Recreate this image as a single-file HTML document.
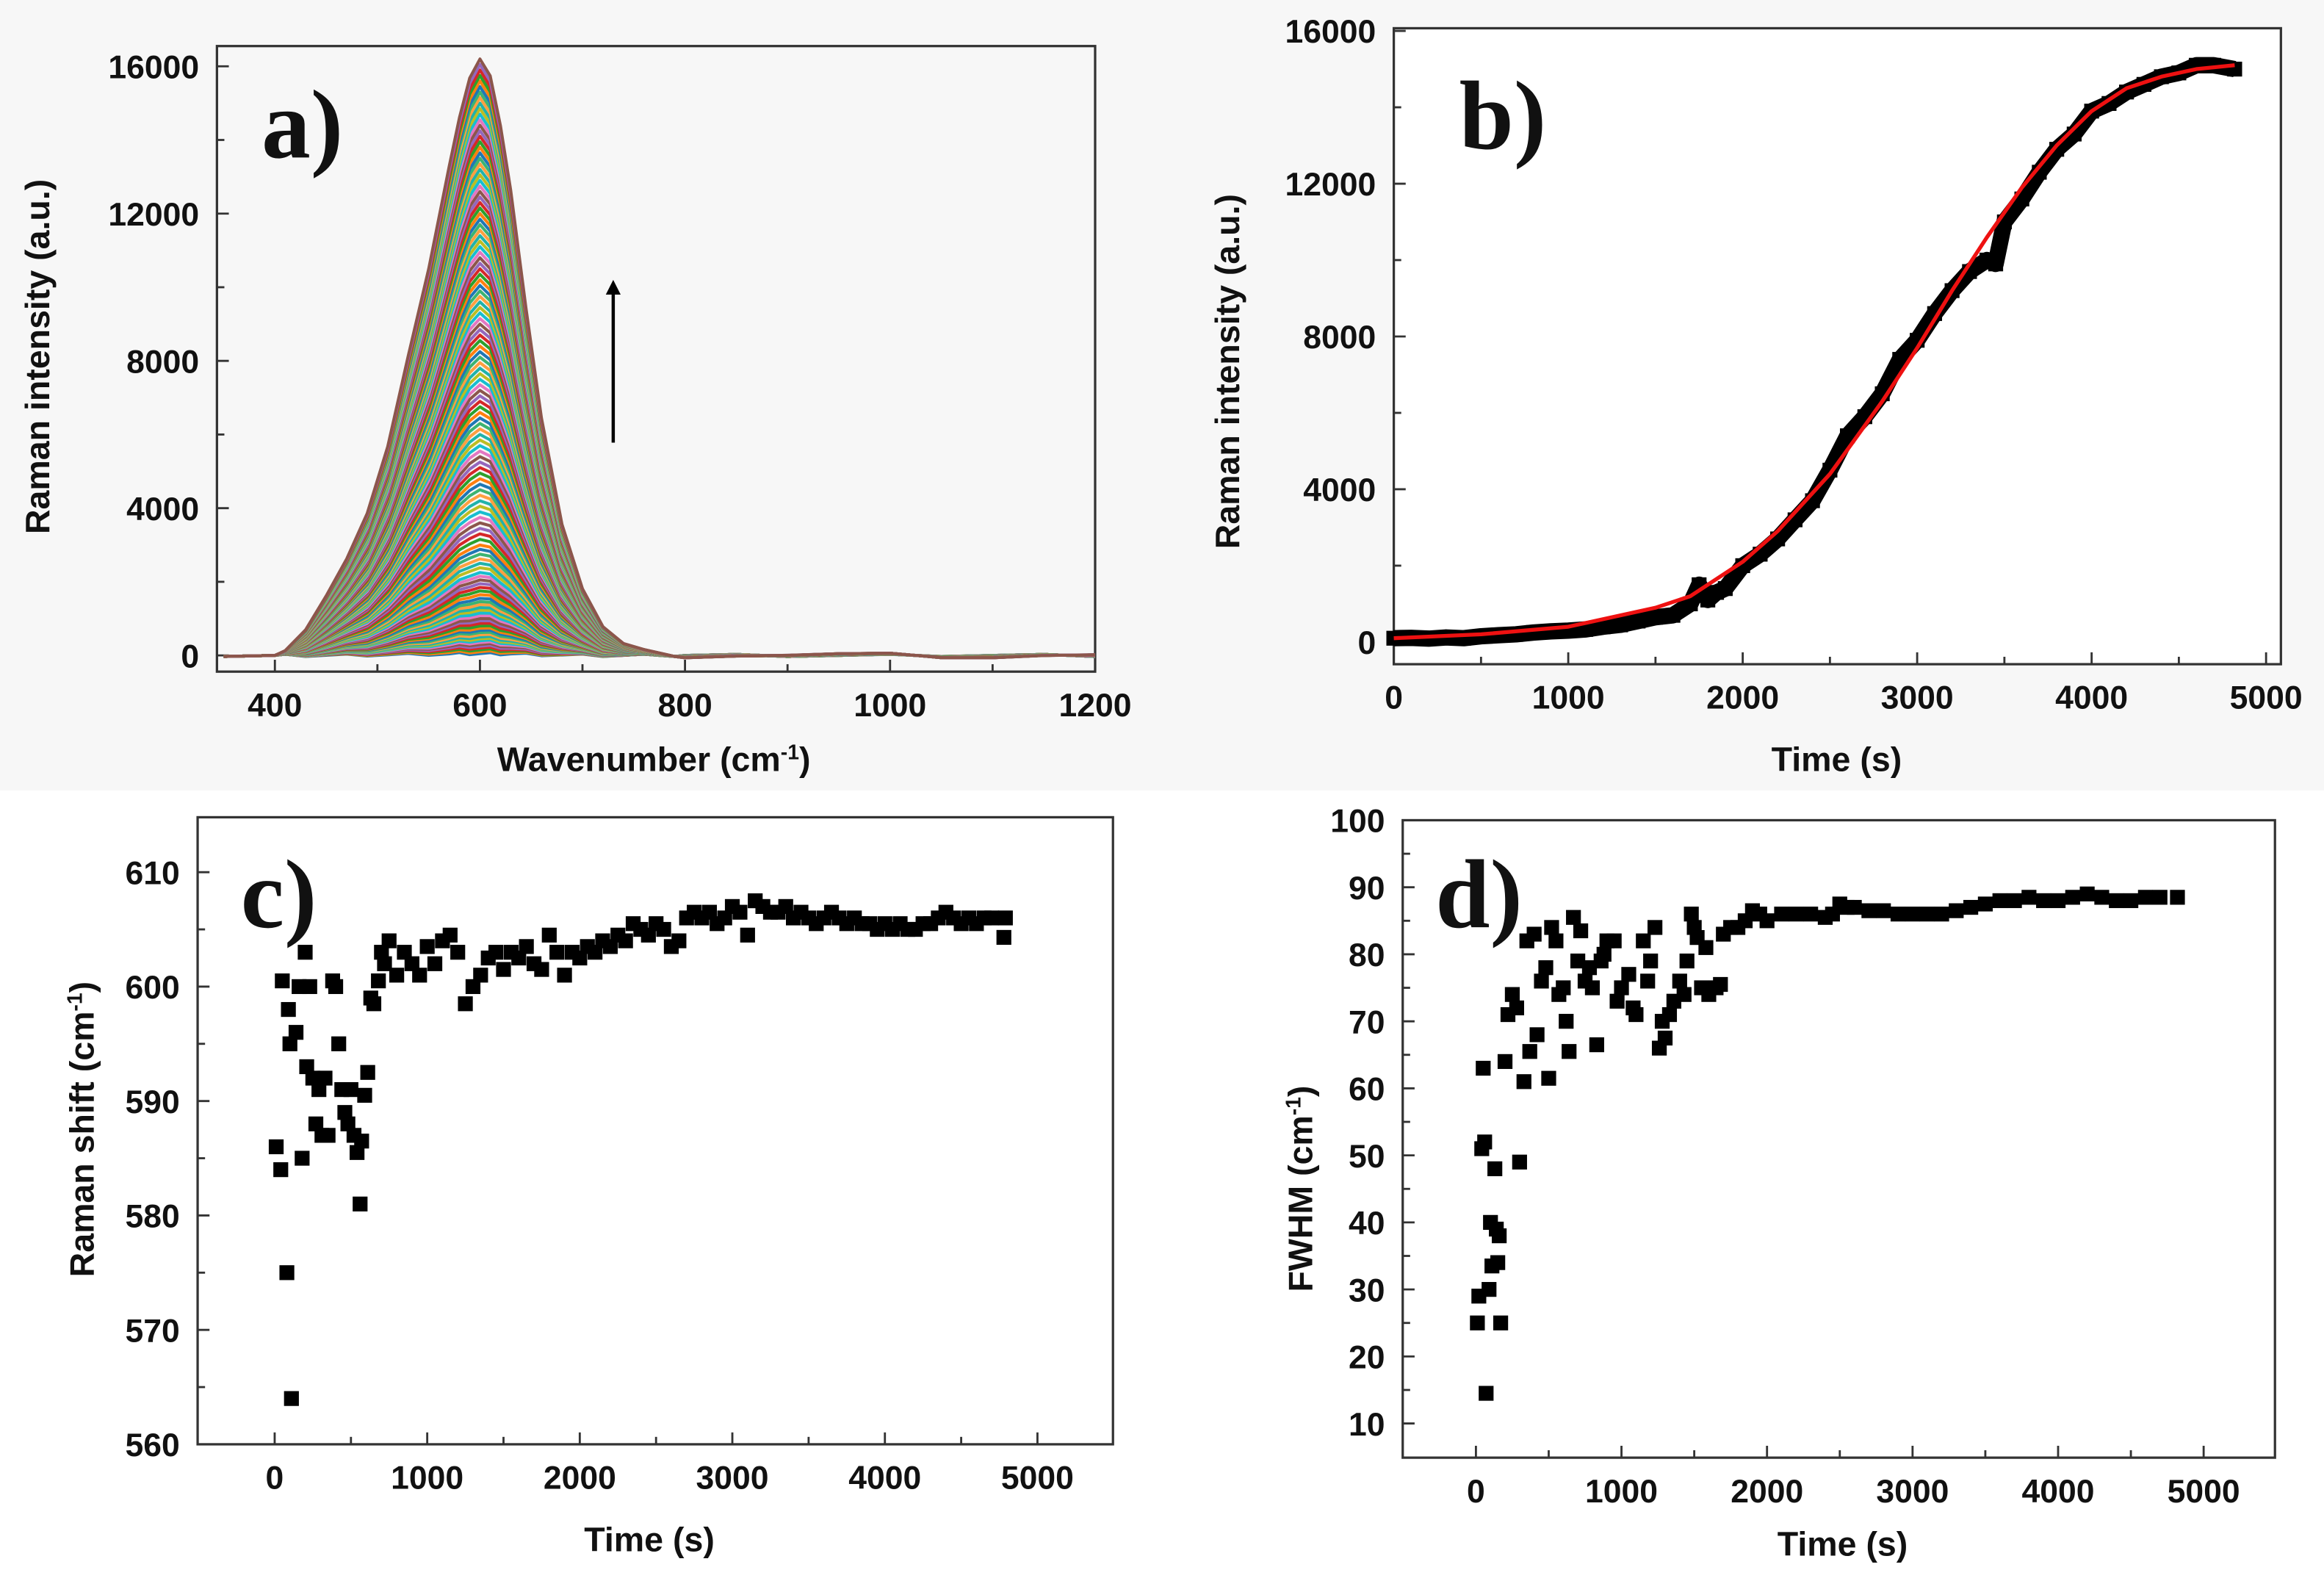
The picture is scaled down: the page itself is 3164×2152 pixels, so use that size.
<!DOCTYPE html>
<html><head><meta charset="utf-8"><title>Raman kinetics</title>
<style>
html,body{margin:0;padding:0;background:#fff;}
svg{display:block;}
text{font-family:"Liberation Sans",Arial,sans-serif;font-weight:bold;fill:#111;}
.lbl{font-family:"Liberation Serif","Times New Roman",serif;font-weight:bold;}
</style></head>
<body>
<svg id="fig" xmlns="http://www.w3.org/2000/svg" width="3164" height="2152" viewBox="0 0 1564 1064" preserveAspectRatio="none">
<rect x="0" y="0" width="1564" height="1064" fill="#fff"/>
<rect x="0" y="0" width="1564" height="532" fill="#f7f7f7"/>
<g id="pa"></g>
<g id="pb"></g>
<g id="pc"></g>
<g id="pd"></g>
</svg>
<script>
// ---------- Panel a: spectral profile (normalized) and peak heights ----------
const profWavenumber = [350,400,410,430,450,470,490,510,530,550,570,580,590,600,610,620,630,645,660,680,700,720,740,760,790,800,850,900,950,1000,1050,1100,1150,1200];
const profShape      = [0,0,0.006,0.045,0.1,0.16,0.24,0.35,0.5,0.65,0.82,0.9,0.97,1,0.97,0.89,0.78,0.58,0.4,0.22,0.11,0.05,0.02,0.008,0,-0.004,-0.003,0.002,0.003,0.002,-0.002,-0.004,-0.002,0.003];
const aPeakHeights = [50,100,150,200,250,300,350,400,450,500,560,620,680,740,800,870,940,1000,1080,1150,1230,1300,1380,1460,1550,1650,1750,1850,1950,2050,2150,2250,2380,2500,2620,2750,2880,3000,3150,3300,3450,3600,3750,3900,4050,4200,4350,4500,4650,4800,4950,5100,5250,5400,5550,5700,5850,6000,6150,6300,6450,6600,6750,6900,7050,7200,7350,7500,7650,7800,7950,8100,8250,8400,8550,8700,8850,9000,9150,9300,9450,9600,9750,9900,10050,10200,10350,10500,10650,10800,10950,11100,11250,11400,11550,11700,11850,12000,12150,12300,12450,12600,12750,12900,13050,13200,13350,13500,13650,13800,13950,14100,14250,14400,14550,14700,14850,15000,15150,15300,15450,15600,15750,15900,16050,16200];
// ---------- Panel b: intensity vs time ----------
const bTimes  = [0,100,200,300,400,500,600,700,800,900,1000,1100,1200,1300,1400,1500,1600,1700,1750,1800,1850,1900,2000,2100,2200,2300,2400,2500,2600,2700,2800,2900,3000,3100,3200,3300,3400,3450,3500,3600,3700,3800,3900,4000,4100,4200,4300,4400,4500,4600,4700,4820];
const bValues = [100,110,90,120,100,150,180,200,250,280,300,330,400,450,550,650,700,1000,1500,1100,1300,1400,2000,2300,2700,3200,3700,4500,5400,5900,6500,7400,7900,8600,9200,9700,10000,9900,11000,11600,12300,12900,13300,13900,14100,14400,14600,14800,14900,15100,15100,15000];
const bFitTimes  = [0,500,1000,1500,1700,2000,2200,2500,2800,3000,3200,3400,3600,3800,4000,4200,4400,4600,4820];
const bFitValues = [100,200,400,900,1200,2100,2900,4400,6300,7700,9200,10600,11900,13000,13900,14500,14800,15000,15100];
// ---------- Panel c: Raman shift vs time [t, value] ----------
const cPoints = [[10,586],[40,584],[50,600.5],[80,575],[90,598],[100,595],[110,564],[140,596],[160,600],[180,585],[200,603],[210,593],[230,600],[250,592],[270,588],[290,591],[310,587],[330,592],[350,587],[380,600.5],[400,600],[420,595],[440,591],[460,589],[480,588],[500,591],[520,587],[540,585.5],[560,581],[570,586.5],[590,590.5],[610,592.5],[630,599],[650,598.5],[680,600.5],[700,603],[720,602],[750,604],[800,601],[850,603],[900,602],[950,601],[1000,603.5],[1050,602],[1100,604],[1150,604.5],[1200,603],[1250,598.5],[1300,600],[1350,601],[1400,602.5],[1450,603],[1500,601.5],[1550,603],[1600,602.5],[1650,603.5],[1700,602],[1750,601.5],[1800,604.5],[1850,603],[1900,601],[1950,603],[2000,602.5],[2050,603.5],[2100,603],[2150,604],[2200,603.5],[2250,604.5],[2300,604],[2350,605.5],[2400,605],[2450,604.5],[2500,605.5],[2550,605],[2600,603.5],[2650,604],[2700,606],[2750,606.5],[2800,606],[2850,606.5],[2900,605.5],[2950,606],[3000,607],[3050,606.5],[3100,604.5],[3150,607.5],[3200,607],[3250,606.5],[3300,606.5],[3350,607],[3400,606],[3450,606.5],[3500,606],[3550,605.5],[3600,606],[3650,606.5],[3700,606],[3750,605.5],[3800,606],[3850,605.5],[3900,605.5],[3950,605],[4000,605.5],[4050,605],[4100,605.5],[4150,605],[4200,605],[4250,605.5],[4300,605.5],[4350,606],[4400,606.5],[4450,606],[4500,605.5],[4550,606],[4600,605.5],[4650,606],[4700,606],[4780,604.3],[4790,606]];
// ---------- Panel d: FWHM vs time ----------
const dTimes  = [10,20,40,50,60,70,90,100,110,130,140,150,160,170,200,220,250,280,300,330,350,370,400,420,450,480,500,520,550,570,600,620,640,670,700,720,750,780,800,830,860,880,900,950,970,1000,1050,1080,1100,1150,1180,1200,1230,1260,1280,1300,1330,1360,1400,1430,1450,1480,1500,1520,1550,1580,1600,1650,1680,1700,1750,1800,1850,1900,1950,2000,2100,2200,2300,2400,2450,2500,2550,2600,2700,2800,2900,3000,3100,3200,3300,3400,3500,3600,3700,3800,3900,4000,4100,4200,4300,4400,4500,4600,4700,4820];
const dValues = [25,29,51,63,52,14.5,30,40,33.5,48,39,34,38,25,64,71,74,72,49,61,82,65.5,83,68,76,78,61.5,84,82,74,75,70,65.5,85.5,79,83.5,76,78,75,66.5,79,80,82,82,73,75,77,72,71,82,76,79,84,66,70,67.5,71,73,76,74,79,86,84,82.5,75,81,74,75,75.5,83,84,84,85,86.5,86,85,86,86,86,85.5,86,87.5,87,87,86.5,86.5,86,86,86,86,86.5,87,87.5,88,88,88.5,88,88,88.5,89,88.5,88,88,88.5,88.5,88.5];

const NS='http://www.w3.org/2000/svg';
function mk(tag, attrs, parent){const e=document.createElementNS(NS,tag);for(const k in attrs)e.setAttribute(k,attrs[k]);parent.appendChild(e);return e;}
function scale(d0,d1,p0,p1){return v=>p0+(v-d0)/(d1-d0)*(p1-p0);}

function axes(g, cfg){
  const X=cfg.X, Y=cfg.Y;
  const box=mk('rect',{x:cfg.l,y:cfg.t,width:cfg.r-cfg.l,height:cfg.b-cfg.t,fill:cfg.fill||'none',stroke:'#333','stroke-width':1.6},g);
  
  
  cfg.xMinor.forEach(v=>{const x=X(v);const t=mk('line',{x1:x,x2:x,y1:cfg.b,y2:cfg.b-5,stroke:'#333','stroke-width':1.4},g);
    });
  cfg.xTicks.forEach(v=>{const x=X(v);const t=mk('line',{x1:x,x2:x,y1:cfg.b,y2:cfg.b-8,stroke:'#333','stroke-width':1.4},g);
    
    const s=mk('text',{x:x,y:cfg.b+30,'text-anchor':'middle','font-size':22},g);s.textContent=v;
    });
  cfg.yMinor.forEach(v=>{const y=Y(v);const t=mk('line',{x1:cfg.l,x2:cfg.l+5,y1:y,y2:y,stroke:'#333','stroke-width':1.4},g);
    });
  cfg.yTicks.forEach(v=>{const y=Y(v);const t=mk('line',{x1:cfg.l,x2:cfg.l+8,y1:y,y2:y,stroke:'#333','stroke-width':1.4},g);
    
    const s=mk('text',{x:cfg.l-12,y:y+8,'text-anchor':'end','font-size':22},g);s.textContent=v;
    });
  const xt=mk('text',{x:cfg.xtX,y:cfg.xtY,'text-anchor':'middle','font-size':23},g);
  xt.innerHTML=cfg.xTitle;
  
  const yt=mk('text',{x:0,y:0,'text-anchor':'middle','font-size':23,transform:`translate(${cfg.ytX},${cfg.ytY}) rotate(-90)`},g);
  yt.innerHTML=cfg.yTitle;
  
  const pl=mk('text',{x:cfg.lx,y:cfg.ly,'font-size':66,class:'lbl'},g);pl.textContent=cfg.label;
  
}
function range(a,b,s){const r=[];for(let v=a;v<=b+1e-9;v+=s)r.push(v);return r;}
const sup='<tspan baseline-shift="super" font-size="14">-1</tspan>';

// ---- Panel a ----
(function(){
  const g=document.getElementById('pa');
  const X=scale(343.5,1200,146,737), Y=scale(-440,16550,452,31);
  axes(g,{X,Y,l:146,r:737,t:31,b:452,fill:'#f7f7f7',xTicks:range(400,1200,200),xMinor:range(500,1100,200),
    yTicks:range(0,16000,4000),yMinor:range(2000,14000,4000),xTitle:'Wavenumber (cm'+sup+')',xtX:440,xtY:519,
    yTitle:'Raman intensity (a.u.)',ytX:33,ytY:240,label:'a)',lx:176,ly:106});
  const pal=['#1f77b4','#ff7f0e','#2ca02c','#d62728','#9467bd','#8c564b','#e377c2','#17becf','#bcbd22','#20b2aa','#ff9f40','#3cb371'];
  aPeakHeights.forEach((h,i)=>{
    const pts=profWavenumber.map((w,j)=>X(w).toFixed(1)+','+Y(h*profShape[j]+ (j%3-1)*30).toFixed(1)).join(' ');
    const p=mk('polyline',{points:pts,fill:'none',stroke:pal[i%pal.length],'stroke-width':2,'stroke-linejoin':'round'},g);
    
    
  });
  const ar=mk('line',{x1:X(730),x2:X(730),y1:Y(5780),y2:Y(9900),stroke:'#000','stroke-width':2.2},g);
  
  const ah=mk('polygon',{points:`${X(730)-5},${Y(9800)} ${X(730)+5},${Y(9800)} ${X(730)},${Y(10200)}`,fill:'#000'},g);
  
})();

// ---- Panel b ----
(function(){
  const g=document.getElementById('pb');
  const X=scale(0,5085,938,1535), Y=scale(-580,16070,447,19);
  axes(g,{X,Y,l:938,r:1535,t:19,b:447,fill:'#fff',xTicks:range(0,5000,1000),xMinor:range(500,4500,1000),
    yTicks:range(0,16000,4000),yMinor:range(2000,14000,4000),xTitle:'Time (s)',xtX:1236,xtY:519,
    yTitle:'Raman intensity (a.u.)',ytX:834,ytY:250,label:'b)',lx:982,ly:100});
  const pts=bTimes.map((t,i)=>X(t).toFixed(1)+','+Y(bValues[i]).toFixed(1)).join(' ');
  const l=mk('polyline',{points:pts,fill:'none',stroke:'#000','stroke-width':11,'stroke-linejoin':'round'},g);
  
  bTimes.forEach((t,i)=>{const r=mk('rect',{x:X(t)-5,y:Y(bValues[i])-5,width:10,height:10,fill:'#000'},g);
    });
  const f=bFitTimes.map((t,i)=>X(t).toFixed(1)+','+Y(bFitValues[i]).toFixed(1)).join(' ');
  const fl=mk('polyline',{points:f,fill:'none',stroke:'#ee1111','stroke-width':2.6,'stroke-linejoin':'round'},g);
  
})();

// ---- Panel c ----
(function(){
  const g=document.getElementById('pc');
  const X=scale(-505,5495,133,749), Y=scale(560,614.8,972,550);
  axes(g,{X,Y,l:133,r:749,t:550,b:972,xTicks:range(0,5000,1000),xMinor:range(500,4500,1000),
    yTicks:range(560,610,10),yMinor:range(565,605,10),xTitle:'Time (s)',xtX:437,xtY:1044,
    yTitle:'Raman shift (cm'+sup+')',ytX:63,ytY:760,label:'c)',lx:162,ly:624});
  cPoints.forEach(p=>{const r=mk('rect',{x:X(p[0])-5,y:Y(p[1])-5,width:10,height:10,fill:'#000'},g);
    });
})();

// ---- Panel d ----
(function(){
  const g=document.getElementById('pd');
  const X=scale(-503,5490,944,1531), Y=scale(4.9,100,981,552);
  axes(g,{X,Y,l:944,r:1531,t:552,b:981,xTicks:range(0,5000,1000),xMinor:range(500,4500,1000),
    yTicks:range(10,100,10),yMinor:range(15,95,10),xTitle:'Time (s)',xtX:1240,xtY:1047,
    yTitle:'FWHM (cm'+sup+')',ytX:883,ytY:800,label:'d)',lx:966,ly:624});
  dTimes.forEach((t,i)=>{const r=mk('rect',{x:X(t)-5,y:Y(dValues[i])-5,width:10,height:10,fill:'#000'},g);
    });
})();
</script>
</body></html>
